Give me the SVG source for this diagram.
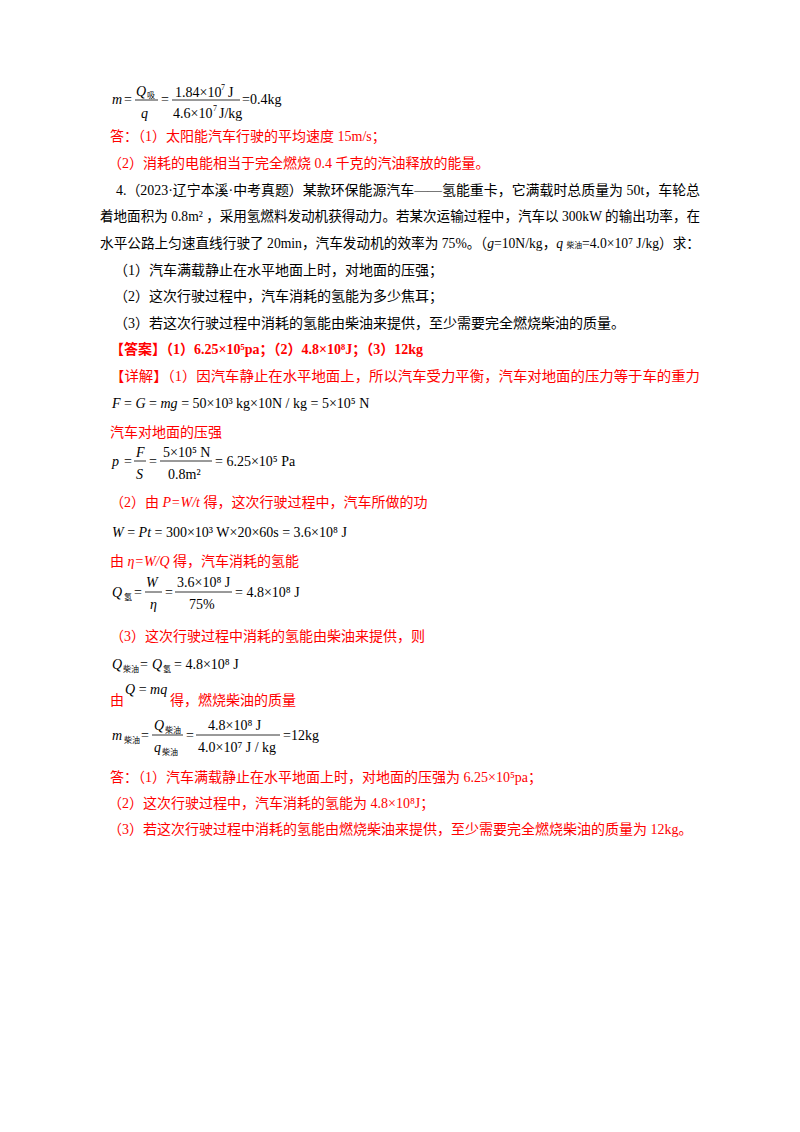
<svg xmlns="http://www.w3.org/2000/svg" width="800" height="1132" viewBox="0 0 800 1132">
<style>
text{font-family:"Liberation Serif","Noto Sans CJK SC",serif;font-size:14px;fill:#000}
.r{fill:#ff0000}
.i{font-style:italic}
.s{font-size:8px}
.u{font-size:8px}
line{stroke:#000;stroke-width:0.8}
</style>
<rect width="800" height="1132" fill="#fff"/>
<text x="112" y="104" class="i">m</text><text x="124" y="104">=</text>
<text x="136" y="96" class="i">Q</text><text x="147" y="98" class="s">吸</text>
<line x1="135" y1="100" x2="158" y2="100"/>
<text x="141" y="118" class="i">q</text>
<text x="161" y="104">=</text>
<text x="175" y="97">1.84×10</text><text x="221" y="90" class="u">7</text><text x="228" y="97">J</text>
<line x1="172" y1="100" x2="240" y2="100"/>
<text x="173" y="118">4.6×10</text><text x="213" y="111" class="u">7</text><text x="219" y="118">J/kg</text>
<text x="242" y="104">=0.4kg</text>
<text x="110" y="141" class="r">答：（1）太阳能汽车行驶的平均速度 15m/s；</text>
<text x="108" y="168" class="r">（2）消耗的电能相当于完全燃烧 0.4 千克的汽油释放的能量。</text>
<text x="116" y="195" textLength="584" lengthAdjust="spacingAndGlyphs">4.（2023·辽宁本溪·中考真题）某款环保能源汽车——氢能重卡，它满载时总质量为 50t，车轮总</text>
<text x="100" y="221" textLength="600" lengthAdjust="spacingAndGlyphs">着地面积为 0.8m² ，采用氢燃料发动机获得动力。若某次运输过程中，汽车以 300kW 的输出功率，在</text>
<text x="100" y="248" textLength="600" lengthAdjust="spacingAndGlyphs">水平公路上匀速直线行驶了 20min，汽车发动机的效率为 75%。（<tspan class="i">g</tspan>=10N/kg，<tspan class="i">q</tspan> <tspan font-size="8">柴油</tspan>=4.0×10⁷ J/kg）求：</text>
<text x="114" y="275">（1）汽车满载静止在水平地面上时，对地面的压强；</text>
<text x="114" y="301">（2）这次行驶过程中，汽车消耗的氢能为多少焦耳；</text>
<text x="114" y="328">（3）若这次行驶过程中消耗的氢能由柴油来提供，至少需要完全燃烧柴油的质量。</text>
<text x="110" y="354" class="r" font-weight="bold">【答案】（1）6.25×10⁵pa；（2）4.8×10⁸J；（3）12kg</text>
<text x="110" y="381" class="r" textLength="590" lengthAdjust="spacingAndGlyphs">【详解】（1）因汽车静止在水平地面上，所以汽车受力平衡，汽车对地面的压力等于车的重力</text>
<text x="112" y="408"><tspan class="i">F</tspan> = <tspan class="i">G</tspan> = <tspan class="i">mg</tspan> = 50×10³ kg×10N / kg = 5×10⁵ N</text>
<text x="110" y="437" class="r">汽车对地面的压强</text>
<text x="112" y="466" class="i">p</text><text x="124" y="466">=</text>
<text x="136" y="457" class="i">F</text><line x1="134" y1="461" x2="146" y2="461"/><text x="136" y="479" class="i">S</text>
<text x="149" y="466">=</text>
<text x="163" y="457">5×10⁵ N</text><line x1="160" y1="461" x2="212" y2="461"/><text x="168" y="479">0.8m²</text>
<text x="215" y="466">= 6.25×10⁵ Pa</text>
<text x="110" y="507" class="r">（2）由 <tspan class="i">P=W/t</tspan> 得，这次行驶过程中，汽车所做的功</text>
<text x="112" y="537"><tspan class="i">W</tspan> = <tspan class="i">Pt</tspan> = 300×10³ W×20×60s = 3.6×10⁸ J</text>
<text x="110" y="566" class="r">由 <tspan class="i">η=W/Q</tspan> 得，汽车消耗的氢能</text>
<text x="112" y="597" class="i">Q</text><text x="124" y="600" class="s">氢</text><text x="134" y="597">=</text>
<text x="146" y="587" class="i">W</text><line x1="145" y1="592" x2="162" y2="592"/><text x="150" y="609" class="i">η</text>
<text x="165" y="597">=</text>
<text x="177" y="587">3.6×10⁸ J</text><line x1="175" y1="592" x2="232" y2="592"/><text x="189" y="609">75%</text>
<text x="235" y="597">= 4.8×10⁸ J</text>
<text x="110" y="641" class="r">（3）这次行驶过程中消耗的氢能由柴油来提供，则</text>
<text x="112" y="669" class="i">Q</text><text x="123" y="672" class="s">柴油</text><text x="140" y="669">=</text><text x="152" y="669" class="i">Q</text><text x="163" y="672" class="s">氢</text><text x="174" y="669">= 4.8×10⁸ J</text>
<text x="110" y="705" class="r">由</text><text x="125" y="694" font-size="10"><tspan class="i">Q</tspan> = <tspan class="i">mq</tspan></text><text x="170" y="705" class="r">得，燃烧柴油的质量</text>
<text x="112" y="740" class="i">m</text><text x="124" y="743" class="s">柴油</text><text x="141" y="740">=</text>
<text x="154" y="730" class="i">Q</text><text x="165" y="733" class="s">柴油</text><line x1="152" y1="735" x2="183" y2="735"/><text x="154" y="752" class="i">q</text><text x="162" y="755" class="s">柴油</text>
<text x="186" y="740">=</text>
<text x="208" y="730">4.8×10⁸ J</text><line x1="196" y1="735" x2="280" y2="735"/><text x="198" y="752">4.0×10⁷ J / kg</text>
<text x="283" y="740">=12kg</text>
<text x="110" y="782" class="r">答：（1）汽车满载静止在水平地面上时，对地面的压强为 6.25×10⁵pa；</text>
<text x="108" y="808" class="r">（2）这次行驶过程中，汽车消耗的氢能为 4.8×10⁸J；</text>
<text x="108" y="834" class="r">（3）若这次行驶过程中消耗的氢能由燃烧柴油来提供，至少需要完全燃烧柴油的质量为 12kg。</text>
</svg>
